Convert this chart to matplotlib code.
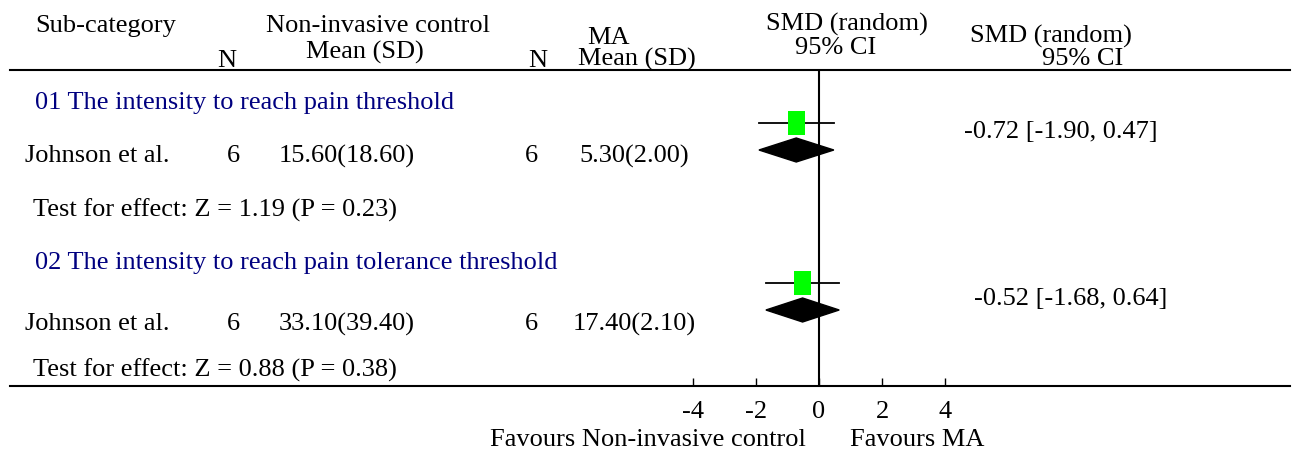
import matplotlib
matplotlib.use('Agg')
import matplotlib.pyplot as plt
import matplotlib.transforms as mtransforms
from matplotlib.patches import Polygon, Rectangle

plt.rcParams['font.family'] = 'Liberation Serif'

# Data
groups = ['01 The intensity to reach pain threshold',
          '02 The intensity to reach pain tolerance threshold']
studies = ['Johnson et al.', 'Johnson et al.']
n_ctrl = [6, 6]
mean_ctrl = ['15.60(18.60)', '33.10(39.40)']
n_ma = [6, 6]
mean_ma = ['5.30(2.00)', '17.40(2.10)']
smd = [-0.72, -0.52]
ci_low = [-1.90, -1.68]
ci_high = [0.47, 0.64]
effect_tests = ['Test for effect: Z = 1.19 (P = 0.23)',
                'Test for effect: Z = 0.88 (P = 0.38)']
ticks = [-4, -2, 0, 2, 4]

W, H = 1293, 453
fig = plt.figure(figsize=(W / 100, H / 100), dpi=100)

# forest axes: full width, between the two rules (pixel rows 70 and 386)
x0, x1 = 10, 1290
ytop, ybot = 70, 386
ax = fig.add_axes([x0 / W, 1 - ybot / H, (x1 - x0) / W, (ybot - ytop) / H])
scale = 31.6  # pixels per SMD unit
zero_px = 819
ax.set_xlim((x0 - zero_px) / scale, (x1 - zero_px) / scale)
ax.set_ylim(ybot, ytop)
for s in ['left', 'right']:
    ax.spines[s].set_visible(False)
ax.spines['top'].set_linewidth(1.5)
ax.spines['bottom'].set_linewidth(1.5)
ax.set_yticks([])
ax.set_xticks(ticks)
ax.set_xticklabels([str(t) for t in ticks])
ax.tick_params(axis='x', direction='in', length=6, width=1, labelsize=19, pad=11)
ax.axvline(0, color='black', lw=1.5)

# rows: y positions in pixel rows
study_y = [123, 283]
diamond_y = [150, 310]
for i in range(2):
    ax.plot([ci_low[i], ci_high[i]], [study_y[i], study_y[i]], color='black', lw=1.3, zorder=2)
    w = 17 / scale
    ax.add_patch(Rectangle((smd[i] - w / 2, study_y[i] - 12), w, 24,
                           facecolor='#00ff00', edgecolor='none', zorder=3))
    ax.add_patch(Polygon([[ci_low[i], diamond_y[i]], [smd[i], diamond_y[i] - 12],
                          [ci_high[i], diamond_y[i]], [smd[i], diamond_y[i] + 12]],
                         closed=True, facecolor='black', edgecolor='black', zorder=3))

trans = mtransforms.blended_transform_factory(fig.transFigure, ax.transData)
fs = 19
dy = 2

def t(px, py, s, ha='left', color='black'):
    ax.text(px / W, py + dy, s, transform=trans, ha=ha, va='center', fontsize=fs, color=color)

group_y = [101, 261]
row_y = [154, 322]
test_y = [208, 368]
res_pos = [(1061, 130), (1071, 297)]
for i in range(2):
    t(35, group_y[i], groups[i], color='#000080')
    t(25, row_y[i], studies[i])
    t(233, row_y[i], str(n_ctrl[i]), ha='center')
    t(347, row_y[i], mean_ctrl[i], ha='center')
    t(531, row_y[i], str(n_ma[i]), ha='center')
    t(634, row_y[i], mean_ma[i], ha='center')
    t(33, test_y[i], effect_tests[i])
    t(res_pos[i][0], res_pos[i][1],
      f'{smd[i]:.2f} [{ci_low[i]:.2f}, {ci_high[i]:.2f}]', ha='center')

# header
def ft(px, py, s, ha='center'):
    fig.text(px / W, 1 - (py + dy) / H, s, ha=ha, va='center', fontsize=fs)

ft(35, 24, 'Sub-category', ha='left')
ft(378, 24, 'Non-invasive control')
ft(227, 59, 'N')
ft(365, 50, 'Mean (SD)')
ft(608, 36, 'MA')
ft(538, 59, 'N')
ft(637, 57, 'Mean (SD)')
ft(847, 22, 'SMD (random)')
ft(836, 46, '95% CI')
ft(1051, 34, 'SMD (random)')
ft(1083, 57, '95% CI')

# footer
ft(806, 438, 'Favours Non-invasive control', ha='right')
ft(850, 438, 'Favours MA', ha='left')

fig.savefig('out.png', dpi=100)
